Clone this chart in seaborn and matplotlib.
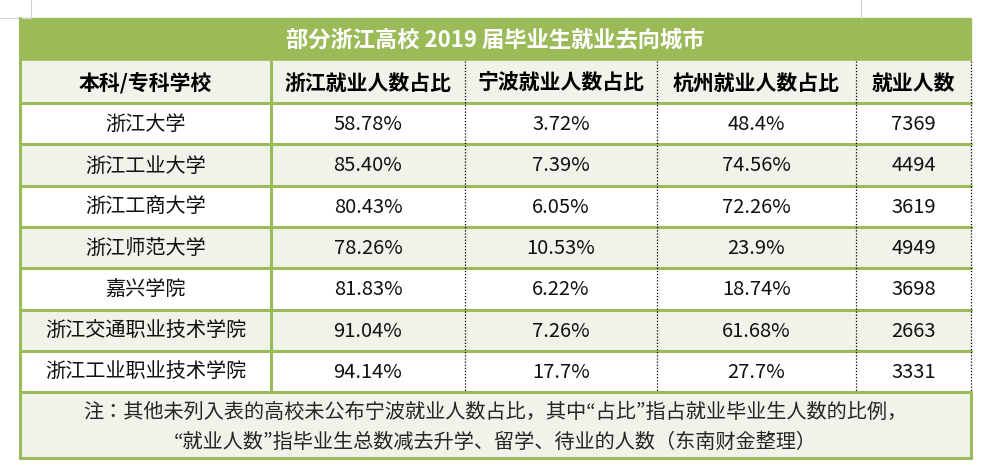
import matplotlib.pyplot as plt
import seaborn as sns

sns.set_theme(style="white")
plt.rcParams['font.family'] = ['Noto Sans CJK SC', 'Noto Sans CJK JP', 'DejaVu Sans']

title = '部分浙江高校 2019 届毕业生就业去向城市'
headers = ['本科/专科学校', '浙江就业人数占比', '宁波就业人数占比', '杭州就业人数占比', '就业人数']
schools = ['浙江大学', '浙江工业大学', '浙江工商大学', '浙江师范大学', '嘉兴学院',
           '浙江交通职业技术学院', '浙江工业职业技术学院']
zj_share = ['58.78%', '85.40%', '80.43%', '78.26%', '81.83%', '91.04%', '94.14%']
nb_share = ['3.72%', '7.39%', '6.05%', '10.53%', '6.22%', '7.26%', '17.7%']
hz_share = ['48.4%', '74.56%', '72.26%', '23.9%', '18.74%', '61.68%', '27.7%']
employed = ['7369', '4494', '3619', '4949', '3698', '2663', '3331']
note = ['注：其他未列入表的高校未公布宁波就业人数占比，其中“占比”指占就业毕业生人数的比例，',
        '“就业人数”指毕业生总数减去升学、留学、待业的人数（东南财金整理）']

green = '#9BBB59'
light = '#EFF3EA'
cols = [20, 271, 465, 657, 856, 971]
y_title, y_head, y_rows, row_h, y_end = 19, 62, 104, 41.3, 459
y_note = y_rows + row_h * len(schools)

fig = plt.figure(figsize=(9.83, 4.77), dpi=100)
ax = fig.add_axes([0, 0, 1, 1])
ax.set_xlim(0, 983)
ax.set_ylim(477, 0)
ax.axis('off')

# faint sheet gridlines
ax.plot([0, 31], [19, 19], color='#d0d0d0', lw=0.8)
ax.plot([31, 31], [0, 19], color='#d0d0d0', lw=0.8)
ax.plot([861, 861], [0, 19], color='#d0d0d0', lw=0.8)

# title bar
ax.add_patch(plt.Rectangle((cols[0], y_title), cols[-1] - cols[0], y_head - y_title, color=green))
ax.text((cols[0] + cols[-1]) / 2, (y_title + y_head) / 2, title, color='white', fontsize=16,
        fontweight='bold', ha='center', va='center')

# header
ax.add_patch(plt.Rectangle((cols[0], y_head), cols[-1] - cols[0], y_rows - y_head, color=light))
for i, h in enumerate(headers):
    ax.text((cols[i] + cols[i + 1]) / 2, (y_head + y_rows) / 2, h, fontsize=15,
            fontweight='bold', ha='center', va='center', color='black')

# rows
table = list(zip(schools, zj_share, nb_share, hz_share, employed))
for r, row in enumerate(table):
    y0 = y_rows + r * row_h
    if r % 2 == 1:
        ax.add_patch(plt.Rectangle((cols[0], y0), cols[-1] - cols[0], row_h, color=light))
    for i, v in enumerate(row):
        ax.text((cols[i] + cols[i + 1]) / 2, y0 + row_h / 2, v, fontsize=14.5,
                ha='center', va='center', color='#111111')

# note
ax.add_patch(plt.Rectangle((cols[0], y_note), cols[-1] - cols[0], y_end - y_note, color=light))
ax.text((cols[0] + cols[-1]) / 2, y_note + 19, note[0], fontsize=14.5, ha='center', va='center')
ax.text((cols[0] + cols[-1]) / 2, y_note + 49, note[1], fontsize=14.5, ha='center', va='center')

# grid lines
for r in range(len(schools) + 1):
    y = y_rows + r * row_h
    ax.plot([cols[0], cols[-1]], [y, y], color=green, lw=2.2)
ax.plot([cols[0], cols[-1]], [y_end, y_end], color=green, lw=2.2)
ax.plot([cols[0], cols[0]], [y_title, y_end], color=green, lw=2.2)
ax.plot([cols[-1], cols[-1]], [y_note, y_end], color=green, lw=2.2)
ax.plot([cols[1], cols[1]], [y_head, y_note], color=green, lw=2.2)
for x in cols[2:]:
    ax.plot([x, x], [y_head, y_note], color='black', lw=0.9, ls=(0, (1, 1.5)))

fig.savefig('out.png', dpi=100)
